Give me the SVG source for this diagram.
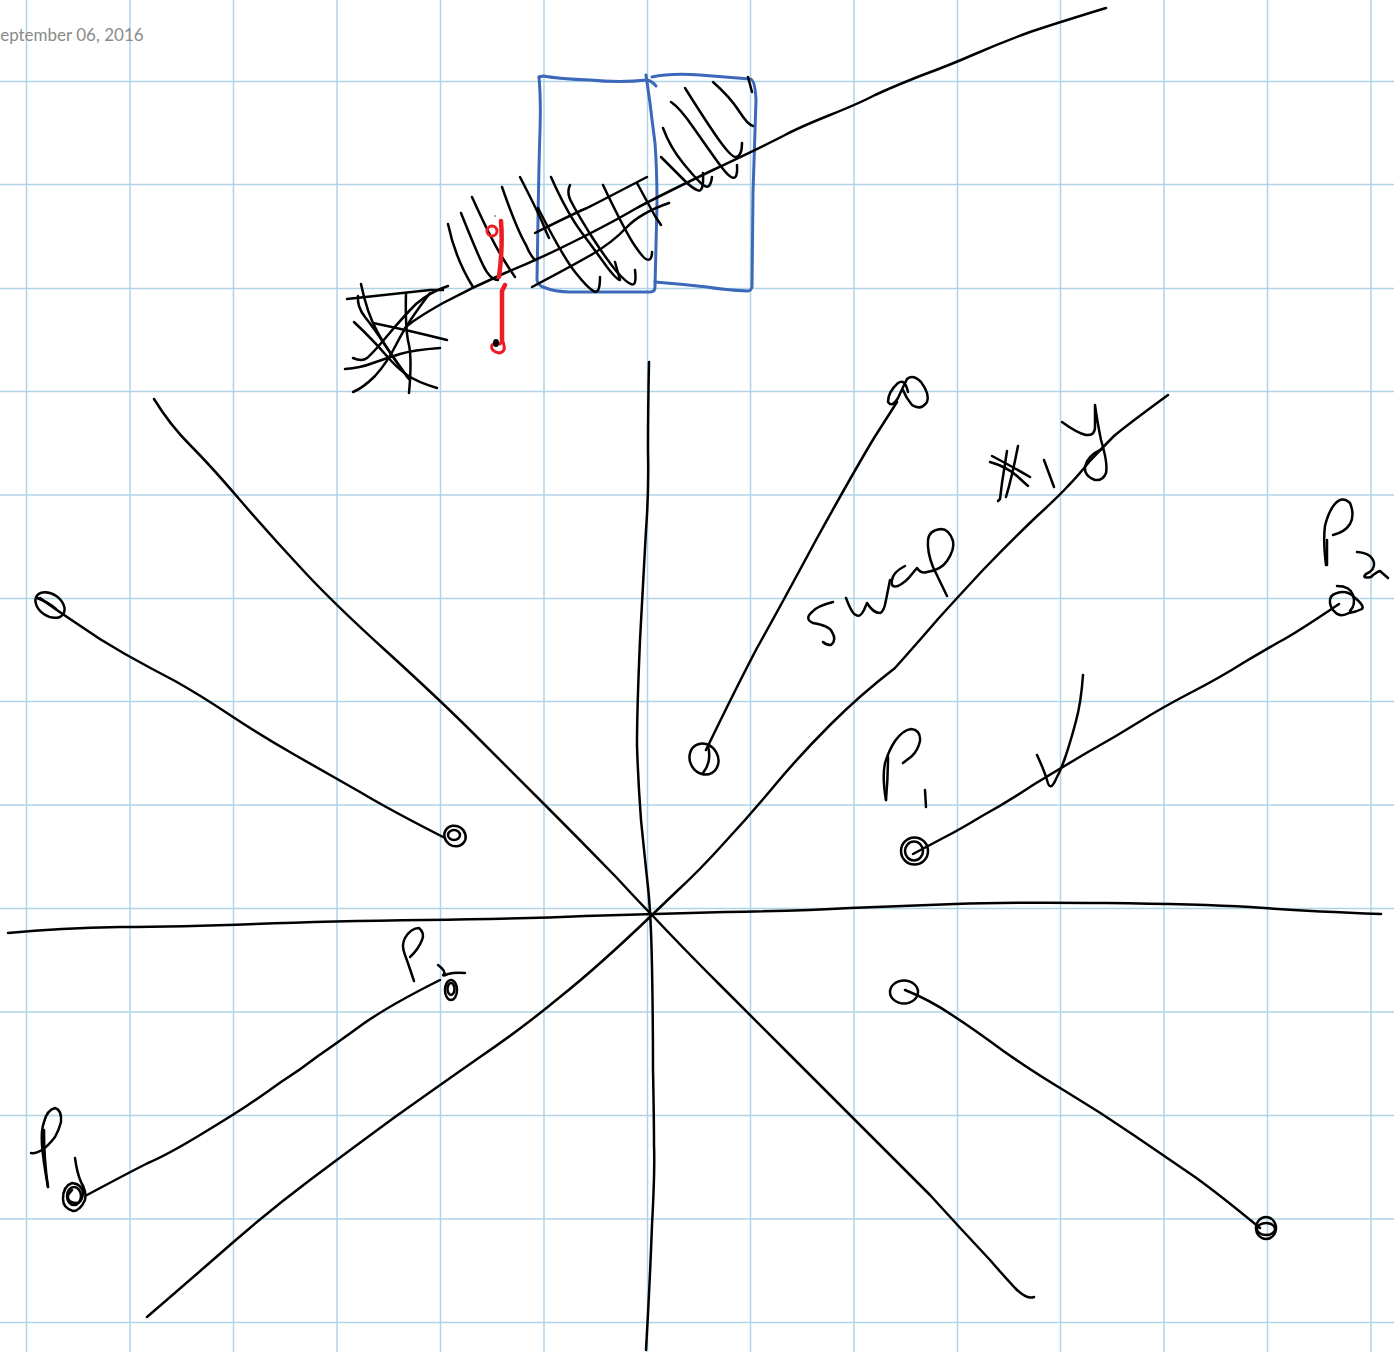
<svg xmlns="http://www.w3.org/2000/svg" width="1394" height="1352" viewBox="0 0 1394 1352">
<style>
.g{stroke:#b0d3e8;stroke-width:1.5;fill:none}
.k path,.k ellipse{fill:none;stroke:#000;stroke-width:2.5;stroke-linecap:round;stroke-linejoin:round}
.b path{fill:none;stroke:#3b68b8;stroke-width:3;stroke-linecap:round;stroke-linejoin:round}
.r path,.r ellipse{fill:none;stroke:#ed1c24;stroke-linecap:round;stroke-linejoin:round}
.r path{stroke-width:4.500}
.r ellipse{stroke-width:3}
text{font-family:Lato,"Open Sans","Liberation Sans",sans-serif;font-size:17px;fill:#8a8a8a}
</style>
<rect width="1394" height="1352" fill="#fff"/>
<g id="grid" class="g">
<path d="M26.500 0V1352M130 0V1352M233.500 0V1352M337 0V1352M440.500 0V1352M544 0V1352M647.500 0V1352M750.500 0V1352M854 0V1352M957.500 0V1352M1060.500 0V1352M1164 0V1352M1267.500 0V1352M1371 0V1352"/>
<path d="M0 81.500H1394M0 184.500H1394M0 288.500H1394M0 391.500H1394M0 495H1394M0 598.500H1394M0 701.500H1394M0 805H1394M0 908.500H1394M0 1012H1394M0 1115.500H1394M0 1219H1394M0 1322.500H1394"/>
</g>
<text id="date" x="-9" y="41">September 06, 2016</text>
<g id="blue-boxes" class="b">
<path d="M539 77L543 76Q560 79 590 80Q620 83 647 80Q652 81 656 86"/>
<path d="M539 77Q541 100 540 130Q539 160 538 220L537 280Q538 285 543 287Q555 292 570 292L650 292Q655 292 655 287L657 203Q657 170 655 143Q652 120 650 103L646 75"/>
<path d="M652 77Q670 73 700 75L750 79Q755 79 756 100L753 193L752 287Q751 291 748 291Q725 290 707 287Q680 284 655 282"/>
</g>
<g id="curve" class="k">
<path d="M1106 8Q1060 22 1030 32Q1000 43 975 54Q950 65 920 76Q890 88 875 95Q860 103 830 115Q800 127 785 135Q770 143 713 170Q657 197 635 209Q613 222 575 241Q537 260 505 273Q473 287 443 303Q413 320 405 328"/>
</g>
<g id="hatching" class="k">
<path d="M448 224Q455 258 473 287"/>
<path d="M461 213Q477 253 483 265Q490 280 498 280"/>
<path d="M472 197Q490 237 502 257Q510 270 515 277"/>
<path d="M502 187Q517 230 526 245Q530 255 535 260"/>
<path d="M520 177Q537 210 543 224Q546 232 549 238"/>
<path d="M538 208Q563 257 575 272Q587 287 592 290Q600 297 600 277"/>
<path d="M551 177Q567 213 582 233Q597 253 607 267Q617 280 620 280L615 262"/>
<path d="M570 185Q566 193 572 203Q577 213 592 237Q607 260 617 272Q627 283 631 284Q637 287 635 270"/>
<path d="M603 185Q623 227 633 243Q643 258 646 259Q652 262 652 252"/>
<path d="M637 183Q650 207 655 216L661 225"/>
<path d="M535 233Q577 212 587 208Q597 203 622 190L647 177"/>
<path d="M532 287Q570 267 591 255Q613 242 626 228Q640 213 669 203"/>
<path d="M661 157Q677 173 684 180Q692 188 697 190Q704 194 703 173"/>
<path d="M663 128Q670 147 683 163Q697 180 702 184Q710 192 712 177"/>
<path d="M671 102Q680 108 693 127Q707 147 717 161Q727 175 731 177Q738 181 737 165"/>
<path d="M685 88Q707 123 719 140Q732 158 736 157Q742 156 742 143"/>
<path d="M713 82Q730 97 739 111Q748 125 753 126"/>
<path d="M748 77L752 92"/>
</g>
<g id="cross-hatching" class="k">
<path d="M347 299L430 290L443 290"/>
<path d="M361 284Q367 313 377 331Q387 350 410 380"/>
<path d="M358 296Q357 307 365 317Q373 327 385 345Q397 363 408 378"/>
<path d="M354 322Q373 340 385 354Q397 368 407 375Q417 382 437 388"/>
<path d="M373 323Q407 330 447 340"/>
<path d="M406 293Q405 330 409 345Q412 360 409 393"/>
<path d="M345 369Q360 368 373 363Q387 358 400 354Q413 350 440 348"/>
<path d="M353 358Q362 362 367 358Q373 353 388 335Q403 317 416 304Q430 292 448 286"/>
<path d="M353 392Q363 388 375 376Q387 363 397 343Q407 323 430 293"/>
</g>
<g id="red-mark" class="r">
<ellipse cx="492" cy="231" rx="5" ry="5"/>
<path d="M501 221Q503 247 499 277"/>
<path d="M505 285L502 291L502 342"/>
<path d="M503 342Q507 352 499 353Q490 351 492 345Q496 341 500 344" style="stroke-width:3"/>
</g>
<g id="ink-dots"><ellipse cx="496" cy="343" rx="3" ry="4" fill="#000"/><circle cx="495" cy="216" r="0.800" fill="#333"/></g>
<g id="axes" class="k">
<path d="M649 362Q648 410 648 450Q649 490 646 530Q644 570 640 640Q637 710 637 745Q638 780 641 820Q645 860 648 887Q651 915 652 967Q653 1020 653 1070Q654 1120 654 1145Q655 1170 652 1225Q650 1280 646 1350"/>
<path d="M8 933Q60 928 120 927Q180 927 255 924Q330 921 425 920Q520 919 585 916Q650 914 725 912Q800 911 850 908Q900 906 955 904Q1010 902 1105 903Q1200 904 1250 907Q1300 911 1381 914"/>
<path d="M154 399Q170 425 190 445Q210 465 240 500Q270 535 300 567Q330 600 385 650Q440 700 475 735Q510 770 545 805Q580 840 616 877Q640 903 652 915Q680 945 720 985Q755 1020 790 1055Q825 1090 860 1125Q895 1160 930 1195Q960 1228 990 1260Q1003 1275 1015 1288Q1027 1300 1034 1297"/>
<path d="M1168 395Q1127 425 1114 436Q1102 448 1089 462Q1077 477 1068 486Q1060 495 1035 518Q1010 542 983 570Q957 598 938 619Q920 640 895 668Q860 695 830 725Q800 755 775 785Q750 815 725 842Q700 870 676 892L652 915Q600 965 560 997Q520 1030 480 1057Q440 1085 395 1117Q350 1150 310 1180Q270 1210 230 1245Q190 1280 147 1317"/>
</g>
<g id="segment-top" class="k">
<path d="M706 750Q735 690 757 648Q780 607 816 540Q853 473 874 438L897 402"/>
<ellipse cx="704" cy="759" rx="16" ry="14" transform="rotate(60 704 759)"/>
<path d="M703 773Q712 762 708 746"/>
<path d="M908 392Q905 378 898 383Q888 392 888 402Q892 408 898 398Q903 387 907 379Q913 374 921 382Q930 394 927 402Q921 411 912 405Q906 398 903 390"/>
</g>
<g id="segment-p1-p2" class="k">
<path d="M913 854Q930 845 945 837Q959 830 982 816Q1006 803 1033 785Q1061 768 1088 752Q1115 737 1139 722Q1163 707 1192 692Q1221 677 1243 663Q1265 650 1279 642Q1293 635 1339 604"/>
<ellipse cx="914.500" cy="851" rx="13.500" ry="13.500"/>
<ellipse cx="914" cy="851" rx="9" ry="9.500"/>
<path d="M1330 603Q1329 595 1337 593Q1347 590 1354 597Q1365 606 1362 609Q1356 612 1349 613Q1340 618 1335 612Q1331 609 1330 603"/>
<path d="M1337 586Q1350 586 1353 595Q1356 605 1350 611"/>
</g>
<g id="label-p1" class="k" aria-label="P1">
<path d="M886 800Q882 777 885 763Q889 750 895 741Q903 730 911 729Q921 730 920 741Q918 750 912 756L903 763"/>
<path d="M886 800Q888 777 888 757"/>
<path d="M925 790L926 807"/>
</g>
<g id="label-p2" class="k" aria-label="P2">
<path d="M1326 565Q1323 540 1325 526Q1328 513 1334 505Q1342 495 1350 503Q1355 515 1350 524Q1345 532 1333 535"/>
<path d="M1327 540L1327 565"/>
<path d="M1357 552Q1372 553 1374 563Q1375 570 1366 574Q1361 579 1371 577Q1376 572 1380 571L1388 578"/>
</g>
<g id="label-check" class="k">
<path d="M1083 675Q1081 703 1076 721Q1071 740 1066 755Q1061 770 1056 779Q1050 793 1047 780Q1044 770 1037 755"/>
</g>
<g id="label-swap" class="k" aria-label="swap #1 y">
<path d="M833 602Q817 606 812 612Q804 619 813 623Q830 626 832 632Q837 640 831 645Q826 645 823 642"/>
<path d="M846 598Q852 614 856 615Q860 618 864 610L867 603Q873 613 880 613Q884 612 886 600L890 580"/>
<path d="M905 566Q893 572 892 580Q890 588 898 586Q906 582 912 574L917 568Q921 574 927 572Q941 570 947 561Q955 549 953 541Q949 529 941 529Q929 530 928 540Q927 552 933 567L947 596"/>
<path d="M990 462Q1007 467 1017 476L1028 486"/>
<path d="M992 456Q1013 467 1030 477"/>
<path d="M1007 451Q1004 470 1002 483L1000 499L998 501"/>
<path d="M1018 446Q1012 477 1006 497"/>
<path d="M1044 460L1054 487"/>
<path d="M1062 422Q1077 433 1086 435Q1095 436 1095 427L1095 405Q1097 420 1101 440Q1108 463 1106 473Q1103 481 1095 480Q1084 476 1085 467Q1087 456 1102 449"/>
</g>
<g id="segment-p0" class="k">
<path d="M87 1195Q130 1172 148 1163Q167 1155 200 1135Q233 1115 248 1105Q263 1095 281 1082Q300 1070 318 1056Q337 1043 363 1024Q390 1005 440 980"/>
<path d="M75 1158Q77 1173 81 1182Q87 1192 85 1200Q80 1211 73 1211Q63 1208 63 1199Q63 1186 72 1183Q82 1184 83 1193Q82 1204 75 1203Q67 1202 68 1195L72 1190"/>
<ellipse cx="74" cy="1196" rx="7" ry="9"/>
<ellipse cx="451" cy="990" rx="6" ry="10"/>
<ellipse cx="451" cy="989" rx="3.500" ry="6"/>
</g>
<g id="label-p0" class="k" aria-label="P0">
<path d="M48 1187Q43 1160 42 1145Q41 1130 44 1122Q47 1110 55 1108Q62 1110 61 1122Q59 1130 55 1137Q48 1146 42 1150Q35 1154 31 1153"/>
<path d="M44 1130Q44 1160 48 1187"/>
</g>
<g id="label-p3" class="k" aria-label="P3">
<path d="M414 981Q408 963 405 955Q401 945 405 938Q411 928 419 928Q425 933 422 940Q418 950 410 957"/>
<path d="M438 965Q446 971 444 974Q441 977 448 974Q455 972 465 973"/>
</g>
<g id="segment-left" class="k">
<path d="M40 598Q52 607 76 623Q100 640 125 654Q150 668 175 681Q200 695 230 715Q260 735 295 755Q330 775 360 792Q390 810 445 838"/>
<ellipse cx="50" cy="605" rx="16" ry="11" transform="rotate(35 50 605)"/>
<path d="M37 598Q48 602 56 609"/>
<ellipse cx="455" cy="836" rx="11" ry="10" transform="rotate(35 455 836)"/>
<ellipse cx="454" cy="835" rx="6" ry="5"/>
</g>
<g id="segment-right" class="k">
<path d="M905 990Q930 1000 952 1015Q975 1030 1002 1050Q1030 1070 1065 1091Q1100 1112 1135 1136Q1170 1160 1195 1177Q1220 1195 1260 1228"/>
<ellipse cx="904" cy="992" rx="14" ry="11.500"/>
<ellipse cx="1266" cy="1228" rx="10" ry="11"/>
<ellipse cx="1266" cy="1229" rx="9" ry="6"/>
</g>
</svg>
